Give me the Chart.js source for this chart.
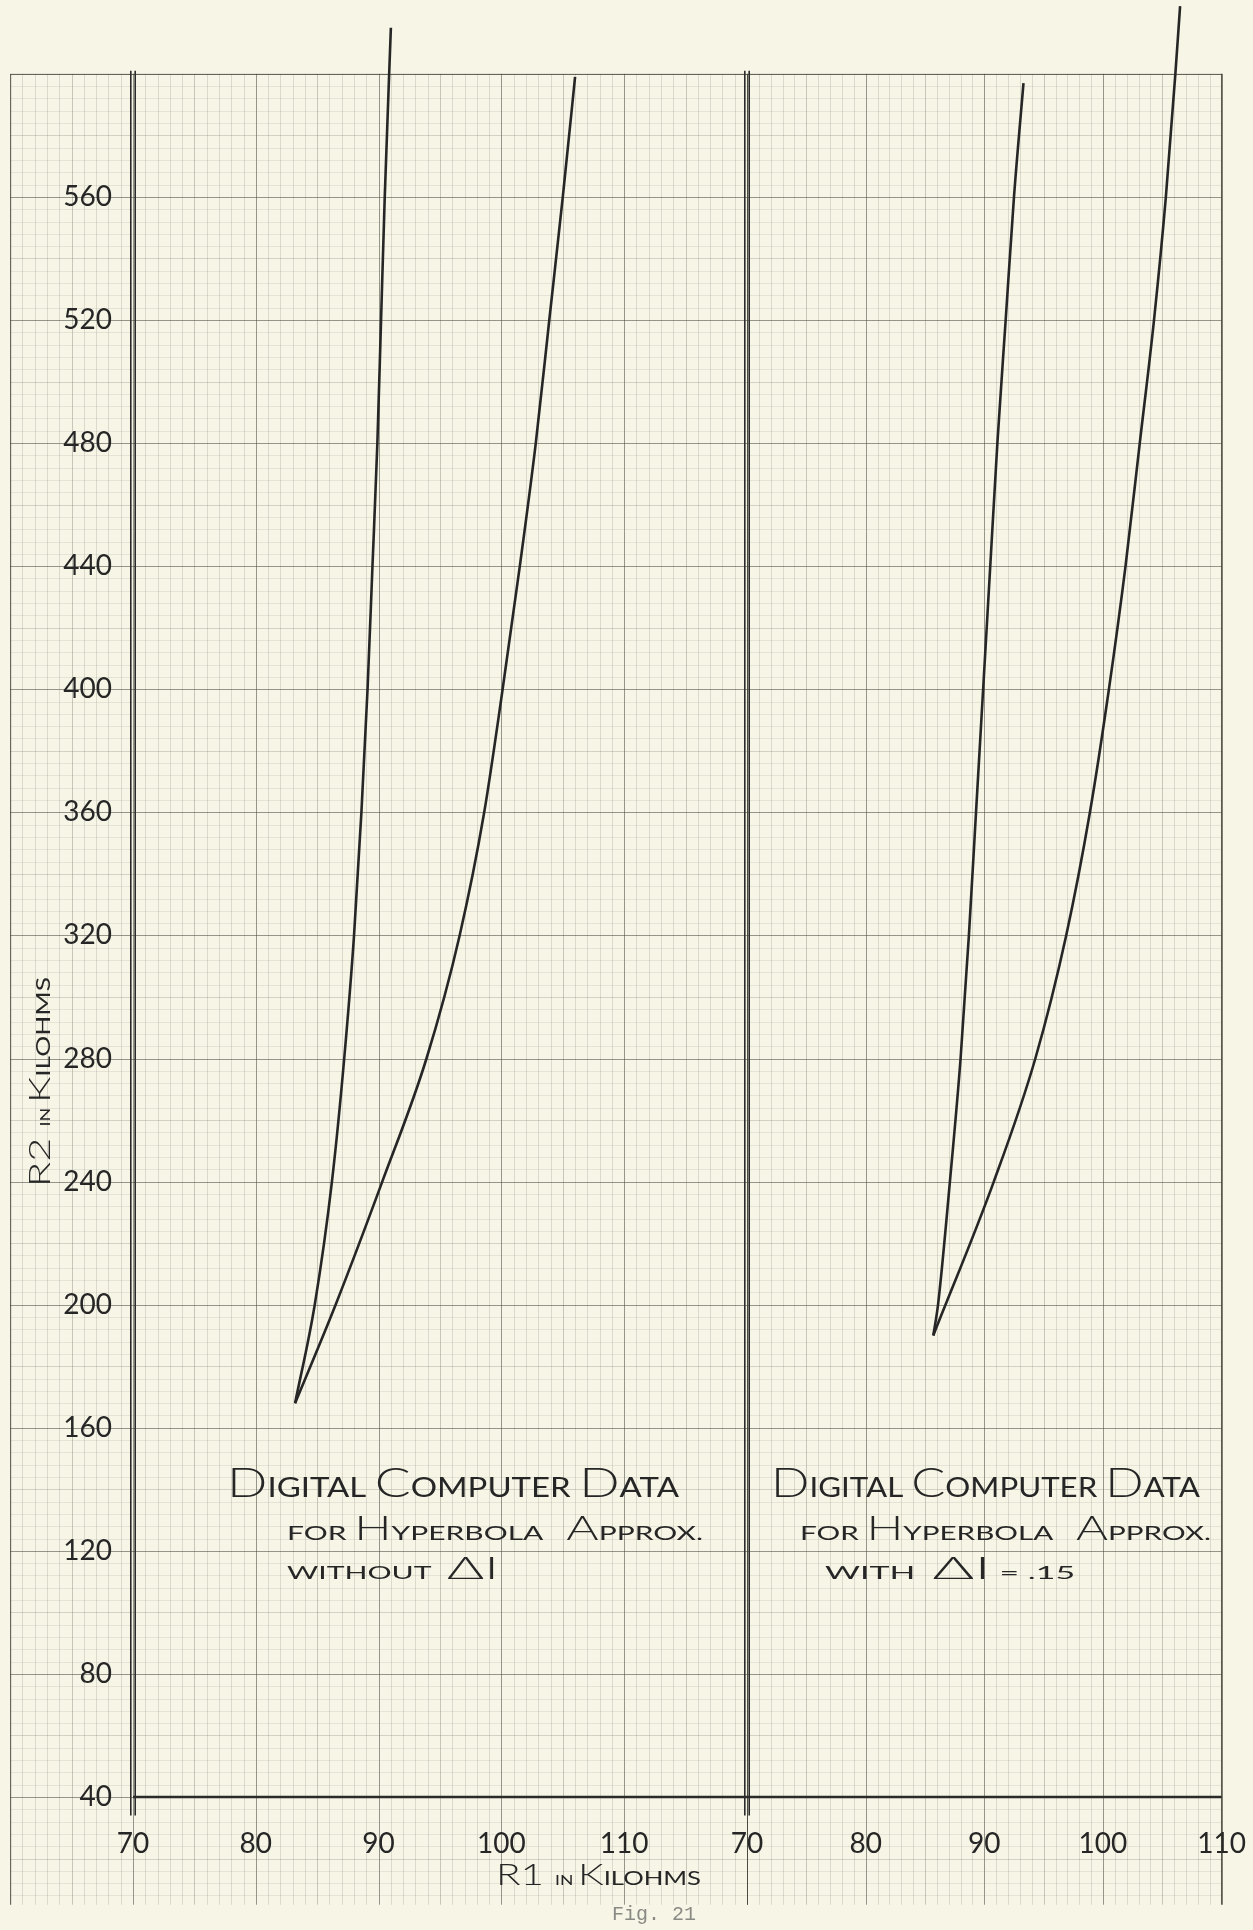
<!DOCTYPE html>
<html>
<head>
<meta charset="utf-8">
<title>Fig. 21</title>
<script src="https://cdn.jsdelivr.net/npm/chart.js@4.4.1/dist/chart.umd.min.js"></script>
<style>
  html, body { margin: 0; padding: 0; width: 1253px; height: 1930px; overflow: hidden; background: #f7f5e6; }
  canvas { position: absolute; top: 0; }
  #leftPanel { left: 0; }
  #rightPanel { left: 697px; }
</style>
</head>
<body>
<canvas id="leftPanel" width="760" height="1930"></canvas>
<canvas id="rightPanel" width="571" height="1930"></canvas>
<script>
// tick labels
const r2Ticks = [40, 80, 120, 160, 200, 240, 280, 320, 360, 400, 440, 480, 520, 560];
const r1TicksLeft = [70, 80, 90, 100, 110];
const r1TicksRight = [70, 80, 90, 100, 110];

// left panel, without delta I (R1, R2 in kilohms)
const leftSteepR1 = [83.2, 84.8, 86.2, 87.2, 88.0, 88.6, 89.1, 89.5, 89.9, 90.2, 90.5, 91.0];
const leftSteepR2 = [168, 200, 240, 280, 320, 360, 400, 440, 480, 520, 560, 615];
const leftShallowR1 = [83.2, 86.5, 90.3, 93.9, 96.6, 98.6, 100.1, 101.5, 102.8, 103.9, 105.0, 106.0];
const leftShallowR2 = [168, 200, 240, 280, 320, 360, 400, 440, 480, 520, 560, 599];

// right panel, with delta I = .15
const rightSteepR1 = [85.7, 86.1, 87.1, 88.0, 88.7, 89.3, 89.9, 90.5, 91.1, 91.8, 92.5, 93.3];
const rightSteepR2 = [190, 200, 240, 280, 320, 360, 400, 440, 480, 520, 560, 597];
const rightShallowR1 = [85.7, 90.8, 94.3, 96.9, 98.9, 100.5, 101.9, 103.1, 104.3, 105.3, 106.1, 106.5];
const rightShallowR2 = [190, 240, 280, 320, 360, 400, 440, 480, 520, 560, 600, 622];

// hand lettering, B = big capital, S = small capital, T = tiny
const noteLeft = [
  [['D', 'B'], ['IGITAL ', 'S'], ['C', 'B'], ['OMPUTER ', 'S'], ['D', 'B'], ['ATA', 'S']],
  [['FOR ', 'S'], ['H', 'B'], ['YPERB', 'S'], ['OLA   ', 'S'], ['A', 'B'], ['PPROX.', 'S']],
  [['WITHOUT  ', 'S'], ['\u0394I', 'B']]
];
const noteRight = [
  [['D', 'B'], ['IGITAL ', 'S'], ['C', 'B'], ['OMPUTER ', 'S'], ['D', 'B'], ['ATA', 'S']],
  [['FOR ', 'S'], ['H', 'B'], ['YPERB', 'S'], ['OLA   ', 'S'], ['A', 'B'], ['PPROX.', 'S']],
  [['WITH  ', 'S'], ['\u0394I', 'B'], [' = .15', 'S']]
];
const xTitle = [['R1 ', 'B'], ['IN ', 'T'], ['K', 'B'], ['ILOHMS', 'S']];
const yTitle = [['R2 ', 'B'], ['IN ', 'T'], ['K', 'B'], ['ILOHMS', 'S']];
const figLabel = 'Fig. 21';

const INK = '#262626';
const HAND = '"Lato", "DejaVu Sans", sans-serif';
const WEIGHT = { B: 300, S: 400, T: 400 };

function handLine(ctx, parts, x, y, sizes, width, rotate) {
  ctx.save();
  ctx.fillStyle = INK;
  ctx.textBaseline = 'alphabetic';
  ctx.textAlign = 'left';
  let total = 0;
  const widths = parts.map(([t, k]) => {
    ctx.font = `${WEIGHT[k]} ${sizes[k]}px ${HAND}`;
    const w = ctx.measureText(t).width;
    total += w;
    return w;
  });
  ctx.translate(x, y);
  if (rotate) ctx.rotate(-Math.PI / 2);
  ctx.scale(width / total, 1);
  let cx = 0;
  parts.forEach(([t, k], i) => {
    ctx.font = `${WEIGHT[k]} ${sizes[k]}px ${HAND}`;
    ctx.fillText(t, cx, 0);
    cx += widths[i];
  });
  ctx.restore();
}

// graph paper drawn through the scales
function paper(xLow, xHigh) {
  return {
    id: 'paper',
    beforeDraw(chart) {
      const { ctx } = chart;
      const xs = chart.scales.x, ys = chart.scales.y;
      const yTop = ys.getPixelForValue(600), yBot = ys.getPixelForValue(5);
      const xL = xs.getPixelForValue(xLow), xR = xs.getPixelForValue(xHigh);
      ctx.save();
      ctx.lineWidth = 1;
      for (let v = xLow; v <= xHigh; v++) {
        const p = Math.round(xs.getPixelForValue(v)) + 0.5;
        ctx.strokeStyle = v % 10 === 0 ? 'rgba(70,70,60,0.55)' : (v % 5 === 0 ? 'rgba(100,100,90,0.32)' : 'rgba(120,120,110,0.22)');
        ctx.beginPath(); ctx.moveTo(p, yTop); ctx.lineTo(p, yBot); ctx.stroke();
      }
      for (let v = 8; v <= 600; v += 4) {
        const p = Math.round(ys.getPixelForValue(v)) + 0.5;
        ctx.strokeStyle = v % 40 === 0 ? 'rgba(70,70,60,0.55)' : (v % 20 === 0 ? 'rgba(110,110,100,0.26)' : 'rgba(130,130,120,0.15)');
        ctx.beginPath(); ctx.moveTo(xL, p); ctx.lineTo(xR, p); ctx.stroke();
      }
      // outer border of the sheet
      ctx.strokeStyle = 'rgba(60,60,50,0.65)';
      ctx.beginPath();
      ctx.moveTo(xL + 0.5, yBot); ctx.lineTo(xL + 0.5, yTop + 0.5); ctx.lineTo(xR, yTop + 0.5);
      ctx.stroke();
      ctx.restore();
    }
  };
}

// heavy axis lines
function frame(xMin, xMax, withRightBorder) {
  return {
    id: 'frame',
    beforeDatasetsDraw(chart) {
      const { ctx } = chart;
      const xs = chart.scales.x, ys = chart.scales.y;
      ctx.save();
      ctx.strokeStyle = '#2a2a2a';
      ctx.lineWidth = 1.6;
      const x0 = xs.getPixelForValue(xMin);
      const top = ys.getPixelForValue(601), bot = ys.getPixelForValue(34);
      [-2.2, 2.2].forEach(d => {
        ctx.beginPath(); ctx.moveTo(x0 + d, top); ctx.lineTo(x0 + d, bot); ctx.stroke();
      });
      ctx.lineWidth = 2.4;
      const y40 = ys.getPixelForValue(40);
      ctx.beginPath(); ctx.moveTo(x0, y40); ctx.lineTo(xs.getPixelForValue(xMax), y40); ctx.stroke();
      if (withRightBorder) {
        ctx.lineWidth = 1.3;
        ctx.strokeStyle = 'rgba(50,50,40,0.8)';
        const xr = xs.getPixelForValue(xMax);
        ctx.beginPath(); ctx.moveTo(xr, ys.getPixelForValue(600)); ctx.lineTo(xr, ys.getPixelForValue(5)); ctx.stroke();
      }
      ctx.restore();
    }
  };
}

function notes(draw) {
  return { id: 'notes', afterDraw(chart) { draw(chart.ctx, chart.canvas.offsetLeft); } };
}

function series(r1, r2) {
  return {
    data: r1.map((x, i) => ({ x, y: r2[i] })),
    showLine: true,
    borderColor: INK,
    borderWidth: 2.6,
    pointRadius: 0,
    cubicInterpolationMode: 'monotone',
    fill: false,
    clip: false
  };
}

function panel(id, cfg) {
  return new Chart(document.getElementById(id), {
    type: 'scatter',
    data: { datasets: cfg.datasets },
    options: {
      responsive: false,
      animation: false,
      devicePixelRatio: 1,
      layout: { padding: { left: cfg.padLeft, right: cfg.padRight, top: 0, bottom: 0 } },
      plugins: { legend: { display: false }, tooltip: { enabled: false } },
      scales: {
        x: {
          type: 'linear', min: cfg.xMin, max: cfg.xMax,
          grid: { display: false }, border: { display: false },
          ticks: {
            stepSize: 10, autoSkip: false, maxRotation: 0, padding: 22, color: INK,
            font: { family: HAND, size: 28, weight: '400' },
            callback: v => cfg.xTicks.includes(v) ? String(v) : null
          },
          afterFit: s => { s.height = 133; }
        },
        y: {
          type: 'linear', min: 40, max: 624, display: cfg.showY,
          grid: { display: false }, border: { display: false },
          ticks: {
            stepSize: 40, padding: 13, color: INK,
            font: { family: HAND, size: 28, weight: '400' },
            callback: v => r2Ticks.includes(v) ? String(v) : null
          },
          afterFit: s => {
            if (cfg.showY) s.width = 133;
            s.paddingTop = 0;
            s.paddingBottom = 0;
          }
        }
      }
    },
    plugins: [paper(cfg.paperLow, cfg.xMax), frame(cfg.xMin, cfg.xMax, cfg.rightBorder), notes(cfg.draw)]
  });
}

panel('leftPanel', {
  datasets: [series(leftSteepR1, leftSteepR2), series(leftShallowR1, leftShallowR2)],
  xMin: 70, xMax: 120, xTicks: r1TicksLeft, showY: true, padLeft: 0, padRight: 13,
  paperLow: 60, rightBorder: false,
  draw(ctx, ox) {
    handLine(ctx, noteLeft[0], 227 - ox, 1497, { B: 42, S: 26 }, 452);
    handLine(ctx, noteLeft[1], 287 - ox, 1540, { B: 33, S: 20 }, 416);
    handLine(ctx, noteLeft[2], 287 - ox, 1579, { B: 32, S: 17 }, 212);
    handLine(ctx, xTitle, 496 - ox, 1885, { B: 30, S: 19, T: 13 }, 205);
    handLine(ctx, yTitle, 50 - ox, 1187, { B: 30, S: 19, T: 13 }, 210, true);
    ctx.save();
    ctx.fillStyle = '#8a8a84';
    ctx.font = '20px "Liberation Mono", monospace';
    ctx.fillText(figLabel, 612 - ox, 1920);
    ctx.restore();
  }
});

panel('rightPanel', {
  datasets: [series(rightSteepR1, rightSteepR2), series(rightShallowR1, rightShallowR2)],
  xMin: 70, xMax: 110, xTicks: r1TicksRight, showY: false, padLeft: 50, padRight: 30,
  paperLow: 70, rightBorder: true,
  draw(ctx, ox) {
    handLine(ctx, noteRight[0], 771 - ox, 1497, { B: 42, S: 26 }, 429);
    handLine(ctx, noteRight[1], 800 - ox, 1540, { B: 33, S: 20 }, 411);
    handLine(ctx, noteRight[2], 825 - ox, 1579, { B: 32, S: 17 }, 250);
  }
});
</script>
</body>
</html>
